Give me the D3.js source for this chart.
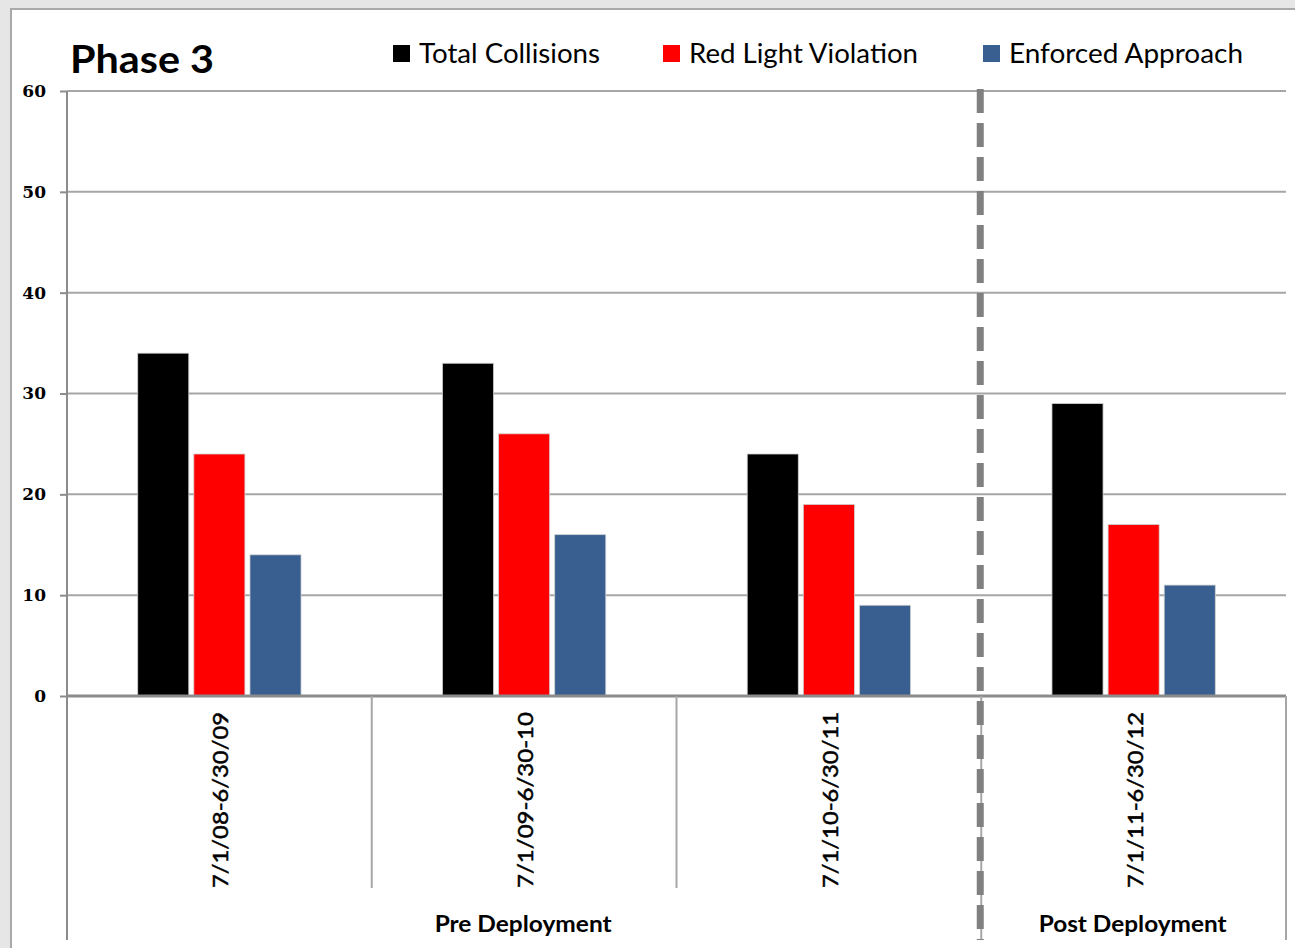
<!DOCTYPE html>
<html>
<head>
<meta charset="utf-8">
<script src="https://cdn.jsdelivr.net/npm/d3@7"></script>
<style>
  html, body { margin: 0; padding: 0; background: #e6e6e6; }
  svg { display: block; }
</style>
</head>
<body>
<svg id="chart" width="1295" height="948"></svg>
<script>
// Collision counts per fiscal year, Phase 3 intersections
const periods = ["7/1/08-6/30/09", "7/1/09-6/30-10", "7/1/10-6/30/11", "7/1/11-6/30/12"];
const seriesNames = ["Total Collisions", "Red Light Violation", "Enforced Approach"];
const totalCollisions = [34, 33, 24, 29];
const redLightViolation = [24, 26, 19, 17];
const enforcedApproach = [14, 16, 9, 11];
const yTicks = [0, 10, 20, 30, 40, 50, 60];
const phases = [
  { label: "Pre Deployment", from: 0, to: 3 },
  { label: "Post Deployment", from: 3, to: 4 }
];

const seriesValues = [totalCollisions, redLightViolation, enforcedApproach];
const colors = ["#000000", "#ff0000", "#385f8f"];

const svg = d3.select("#chart");
const W = 1295, H = 948;
const plotLeft = 67, plotRight = 1286, plotTop = 91, plotBottom = 696;

// Frame
svg.append("rect").attr("x", 0).attr("y", 0).attr("width", W).attr("height", H).attr("fill", "#e6e6e6");
svg.append("rect").attr("x", 11).attr("y", 9).attr("width", W - 11).attr("height", H - 9).attr("fill", "#ffffff");
svg.append("path").attr("d", `M11,${H} V9 H${W}`).attr("fill", "none").attr("stroke", "#a9a9a9").attr("stroke-width", 2);

const x0 = d3.scaleBand().domain(periods).range([plotLeft, plotRight]).padding(0);
const x1 = d3.scaleBand().domain(seriesNames).range([0, x0.bandwidth()]).paddingInner(0.09).paddingOuter(1.26);
const y = d3.scaleLinear().domain([0, 60]).range([plotBottom, plotTop]);

// Gridlines
svg.append("g").selectAll("line").data(yTicks.filter(d => d > 0)).join("line")
  .attr("x1", plotLeft).attr("x2", plotRight)
  .attr("y1", d => y(d)).attr("y2", d => y(d))
  .attr("stroke", "#a6a6a6").attr("stroke-width", 2);

// Y axis
const yAxis = svg.append("g").attr("transform", `translate(${plotLeft},0)`)
  .call(d3.axisLeft(y).tickValues(yTicks).tickSize(7).tickPadding(14));
yAxis.select(".domain").remove();
yAxis.selectAll(".tick line").attr("stroke", "#8c8c8c").attr("stroke-width", 2);
yAxis.selectAll(".tick text")
  .attr("font-family", "'DejaVu Serif', serif").attr("font-weight", "bold")
  .attr("font-size", 17).attr("fill", "#000");
svg.append("line").attr("x1", plotLeft).attr("x2", plotLeft).attr("y1", plotTop).attr("y2", 940)
  .attr("stroke", "#8c8c8c").attr("stroke-width", 2);

// Bars
const groups = svg.append("g").selectAll("g").data(periods).join("g")
  .attr("transform", d => `translate(${x0(d)},0)`);
groups.selectAll("rect")
  .data((p, i) => seriesNames.map((s, k) => ({ s, v: seriesValues[k][i], k })))
  .join("rect")
  .attr("x", d => x1(d.s))
  .attr("width", x1.bandwidth())
  .attr("y", d => y(d.v))
  .attr("height", d => y(0) - y(d.v))
  .attr("fill", d => colors[d.k])
  .attr("stroke", "#d0d0d0").attr("stroke-width", 0.8);

// Baseline and category separators
svg.append("line").attr("x1", plotLeft).attr("x2", plotRight).attr("y1", plotBottom).attr("y2", plotBottom)
  .attr("stroke", "#8c8c8c").attr("stroke-width", 3);
periods.slice(1).forEach((p, i) => {
  const xx = x0(p);
  const yEnd = (i === 2) ? 940 : 888;
  svg.append("line").attr("x1", xx).attr("x2", xx).attr("y1", plotBottom).attr("y2", yEnd)
    .attr("stroke", "#a6a6a6").attr("stroke-width", 2);
});
svg.append("line").attr("x1", plotRight).attr("x2", plotRight).attr("y1", plotBottom).attr("y2", 940)
  .attr("stroke", "#a6a6a6").attr("stroke-width", 2);

// Category labels
svg.append("g").selectAll("text").data(periods).join("text")
  .attr("transform", d => `translate(${x0(d) + x0.bandwidth() / 2 + 9},712) rotate(-90)`)
  .attr("text-anchor", "end")
  .attr("font-family", "Lato, sans-serif").attr("font-size", 22).attr("fill", "#000")
  .attr("stroke", "#000").attr("stroke-width", 0.5)
  .attr("textLength", 176).attr("lengthAdjust", "spacingAndGlyphs")
  .text(d => d);

// Phase labels
const phaseW = [177, 188];
svg.append("g").selectAll("text").data(phases).join("text")
  .attr("x", d => (x0(periods[d.from]) + (d.to < periods.length ? x0(periods[d.to]) : plotRight)) / 2 - 1)
  .attr("y", 932)
  .attr("text-anchor", "middle")
  .attr("font-family", "Lato, sans-serif").attr("font-weight", "bold").attr("font-size", 22).attr("fill", "#000")
  .attr("textLength", (d, i) => phaseW[i]).attr("lengthAdjust", "spacingAndGlyphs")
  .text(d => d.label);

// Deployment divider
const divX = x0(periods[3]) - 1;
svg.append("line").attr("x1", divX).attr("x2", divX).attr("y1", plotTop - 2).attr("y2", 940)
  .attr("stroke", "#808080").attr("stroke-width", 7).attr("stroke-dasharray", "24,10");

// Title
svg.append("text").attr("x", 70).attr("y", 73)
  .attr("font-family", "Lato, sans-serif").attr("font-weight", "bold").attr("font-size", 39).attr("fill", "#000")
  .attr("textLength", 144).attr("lengthAdjust", "spacingAndGlyphs")
  .text("Phase 3");

// Legend
const legendX = [393, 663, 983];
const legendW = [181, 229, 234];
const legend = svg.append("g").selectAll("g").data(seriesNames).join("g")
  .attr("transform", (d, i) => `translate(${legendX[i]},0)`);
legend.append("rect").attr("x", 0).attr("y", 45).attr("width", 17).attr("height", 17)
  .attr("fill", (d, i) => colors[i]);
legend.append("text").attr("x", 26).attr("y", 63)
  .attr("font-family", "Lato, sans-serif").attr("font-size", 27).attr("fill", "#000")
  .attr("textLength", (d, i) => legendW[i]).attr("lengthAdjust", "spacingAndGlyphs")
  .text(d => d);
</script>
</body>
</html>
